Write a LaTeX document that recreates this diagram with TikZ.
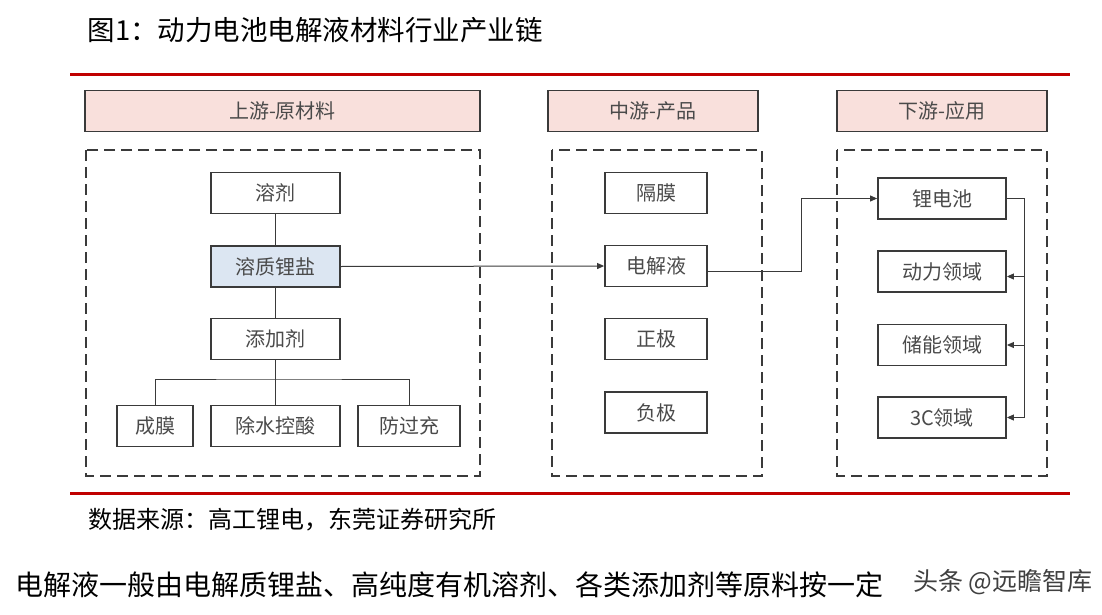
\documentclass[tikz,border=0pt]{standalone}
\usepackage{fontspec}
\setmainfont{Noto Sans CJK SC}
\usetikzlibrary{arrows.meta}
\definecolor{headpink}{HTML}{F9E0DC}
\definecolor{saltblue}{HTML}{DCE6F2}
\definecolor{rulered}{HTML}{C00000}
\definecolor{boxgray}{HTML}{3A3A3A}
\definecolor{textgray}{HTML}{4A4A4A}
\begin{document}
\begin{tikzpicture}[x=1pt,y=-1pt,
    item/.style={draw=boxgray,line width=1.8pt,minimum height=41pt,inner sep=0pt,
      text=textgray,font=\fontsize{20}{24}\selectfont},
    head/.style={item,fill=headpink,minimum width=210pt},
    group/.style={draw=boxgray,line width=2pt,dash pattern=on 11pt off 6pt},
    link/.style={draw=boxgray,line width=1pt},
    tip/.style={link,-{Triangle[length=7pt,width=6pt]}}]
      \useasboundingbox (0,0) rectangle (1102,615);
      \draw
        (84,30) node[anchor=west,font=\fontsize{27.5}{31}\selectfont] (title){图1：动力电池电解液材料行业产业链}
        (85,520) node[anchor=west,font=\fontsize{24}{28}\selectfont] (source){数据来源：高工锂电，东莞证券研究所}
        (12,585) node[anchor=west,font=\fontsize{28}{32}\selectfont] (note){电解液一般由电解质锂盐、高纯度有机溶剂、各类添加剂等原料按一定}
        (1096,582) node[anchor=east,text=black!75,font=\fontsize{25}{29}\selectfont] (mark){头条 @远瞻智库};
      \draw[rulered,line width=3pt] (70,75) -- (1070,75);
      \draw[rulered,line width=3pt] (70,493) -- (1070,493);
      % headers
      \draw
        (282.5,111) node[head,minimum width=395pt] (up){上游-原材料}
        (653,111) node[head] (mid){中游-产品}
        (942,111) node[head] (down){下游-应用};
      \draw[group] (86,150) rectangle (480,476);
      \draw[group] (552,150) rectangle (762,476);
      \draw[group] (837,150) rectangle (1047,476);
      % upstream
      \draw
        (275.5,193) node[item,minimum width=129pt] (solvent){溶剂}
        (275.5,266.5) node[item,minimum width=129pt,fill=saltblue] (salt){溶质锂盐}
        (275.5,339) node[item,minimum width=129pt] (additive){添加剂}
        (155,426) node[item,minimum width=76pt] (film){成膜}
        (275.5,426) node[item,minimum width=129pt] (dewater){除水控酸}
        (409,426) node[item,minimum width=102pt] (overcharge){防过充};
      \coordinate (fork) at (275.5,379);
      % midstream
      \draw
        (656,193) node[item,minimum width=102pt] (separator){隔膜}
        (656,266) node[item,minimum width=102pt] (electrolyte){电解液}
        (656,339) node[item,minimum width=102pt] (cathode){正极}
        (656,412.5) node[item,minimum width=102pt] (anode){负极};
      % downstream
      \draw
        (942,198.5) node[item,minimum width=128pt] (battery){锂电池}
        (942,271.5) node[item,minimum width=128pt] (power){动力领域}
        (942,345) node[item,minimum width=128pt] (storage){储能领域}
        (942,417.5) node[item,minimum width=128pt] (consumer){3C领域};
      \begin{scope}[link]
        \draw (solvent) to (salt);
        \draw (salt) to (additive);
        \draw (additive) to (dewater);
        \draw (film.north) |- (fork) -| (overcharge.north);
        \draw (battery.east) -- ++(18,0) coordinate (bus);
      \end{scope}
      \begin{scope}[tip]
        \draw (salt.east) to (electrolyte.west);
        \draw ([yshift=-5pt]electrolyte.east) -- ++(94,0) |- (battery.west);
        \draw (bus) |- ([yshift=-5pt]power.east);
        \draw (bus) |- (storage.east);
        \draw (bus) |- (consumer.east);
      \end{scope}
    \end{tikzpicture}
\end{document}
